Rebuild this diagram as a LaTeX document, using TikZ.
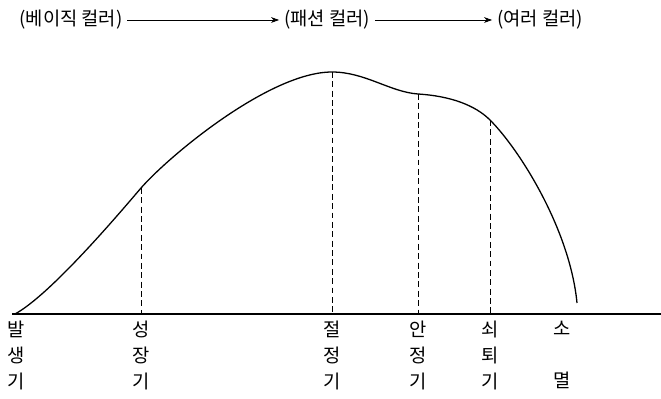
\documentclass[tikz,border=0pt]{standalone}
\usepackage{fontspec}
\setmainfont{Noto Sans CJK KR}
\usepackage{tikz}
\usetikzlibrary{calc,arrows.meta}

\tikzset{
  stage/.style={font=\fontsize{16}{22}\selectfont, align=center, anchor=north, inner sep=0pt},
  era/.style={font=\fontsize{16}{18}\selectfont, inner sep=4pt},
  guide/.style={dashed, dash pattern=on 5pt off 3pt, line width=0.6pt}
}

\begin{document}
\begin{tikzpicture}[x=0.03cm,y=-0.03cm,>={Stealth[length=7pt,width=5pt]}]
        \useasboundingbox (0,0) rectangle (661,399);
        % colour trends on top
        \node[era] (basic) at (71,20) {(베이직 컬러)};
        \node[era] (fashion) at (327,20) {(패션 컬러)};
        \node[era] (various) at (540,20) {(여러 컬러)};
        \draw[->,line width=0.8pt] (basic) -- (fashion);
        \draw[->,line width=0.8pt] (fashion) -- (various);
        % axis
        \coordinate (o) at (12,314);
        \coordinate (e) at (661,314);
        \draw[line width=1.1pt] (o) -- (e);
        % life cycle curve
        \coordinate (birth) at (15,314);
        \coordinate (growth) at (141,188);
        \coordinate (peak) at (332,72);
        \coordinate (stable) at (418,94);
        \coordinate (decline) at (490,120);
        \coordinate (death) at (577,303);
        \draw[line width=1.1pt] (birth) .. controls (50,295) and (118,215) .. (growth)
          .. controls (170,155) and (270,72) .. (peak)
          .. controls (365,72) and (390,92) .. (stable)
          .. controls (450,96) and (475,105) .. (decline)
          .. controls (520,150) and (570,230) .. (death);
        \draw[guide] (growth) -- (growth |- o);
        \draw[guide] (peak) -- (peak |- o);
        \draw[guide] (stable) -- (stable |- o);
        \draw[guide] (decline) -- (decline |- o);
        % stages
        \node[stage] (s1) at (16,321) {발\\생\\기};
        \node[stage] (s2) at (141,321) {성\\장\\기};
        \node[stage] (s3) at (332,321) {절\\정\\기};
        \node[stage] (s4) at (418,321) {안\\정\\기};
        \node[stage] (s5) at (490,321) {쇠\\퇴\\기};
        \node[stage] (s6) at (562,321) {소\\ \\멸};
      \end{tikzpicture}
\end{document}
